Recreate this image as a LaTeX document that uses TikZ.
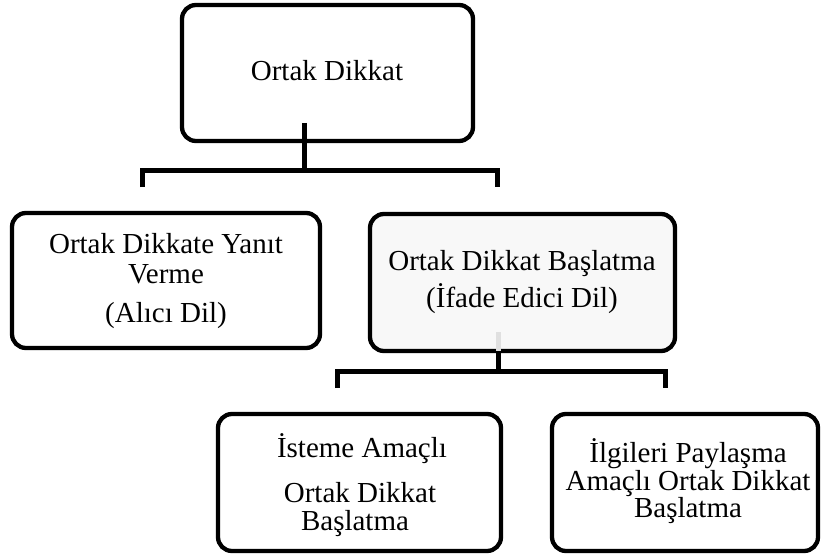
\documentclass[tikz,border=0pt]{standalone}
\usepackage{fontspec}
\setmainfont{Liberation Serif}
\usetikzlibrary{calc}
\definecolor{midfill}{HTML}{F8F8F8}
\definecolor{stubgray}{HTML}{E0E0E0}
\begin{document}
\begin{tikzpicture}[x=1pt,y=-1pt,
  box/.style={draw=black, line width=4.3pt, rounded corners=14pt, fill=white, inner sep=0pt, outer sep=0pt},
  txt/.style={anchor=base, inner sep=0pt, font=\fontsize{29}{30}\selectfont},
  conn/.style={draw=black, line width=5pt, line join=miter},
]
\useasboundingbox (0,0) rectangle (821,559);

% boxes
\node[box, minimum width=291pt, minimum height=136pt] (top) at (327.5,73) {};
\node[box, minimum width=308pt, minimum height=135pt] (left) at (166,280.5) {};
\node[box, fill=midfill, minimum width=305pt, minimum height=137pt] (mid) at (522.5,282.5) {};
\node[box, minimum width=283pt, minimum height=137pt] (bl) at (359.5,482.5) {};
\node[box, minimum width=266pt, minimum height=137pt] (br) at (685,482.5) {};

% texts
\node[txt] (t1) at (327,81) {Ortak Dikkat};
\node[txt] (l1) at (166,253) {Ortak Dikkate Yanıt};
\node[txt] (l2) at (166,283) {Verme};
\node[txt] (l3) at (166,322) {(Alıcı Dil)};
\node[txt] (m1) at (522,270) {Ortak Dikkat Başlatma};
\node[txt] (m2) at (522,307) {(İfade Edici Dil)};
\node[txt] (b1) at (362,457) {İsteme Amaçlı};
\node[txt] (b2) at (360,502) {Ortak Dikkat};
\node[txt] (b3) at (355,530) {Başlatma};
\node[txt] (r1) at (688,462) {İlgileri Paylaşma};
\node[txt] (r2) at (688,490) {Amaçlı Ortak Dikkat};
\node[txt] (r3) at (688,517) {Başlatma};

% top bracket
\coordinate (topstub) at ($(top.south)+(-23.5,-18)$);
\coordinate (topjoin) at ($(top.south)+(-23.5,29)$);
\coordinate (tleg) at (142,187);
\coordinate (rleg) at (497,187);
\draw[conn] (topstub) -- (topjoin);
\draw[conn] (tleg) |- (topjoin) -| (rleg);

% middle bracket
\coordinate (midstub) at ($(mid.south)+(-24.5,-19)$);
\coordinate (midbot) at ($(mid.south)+(-24.5,0)$);
\coordinate (midjoin) at ($(mid.south)+(-24.5,20)$);
\coordinate (blleg) at (337,388);
\coordinate (brleg) at (665,388);
\draw[stubgray, line width=5pt] (midstub) -- (midbot);
\draw[conn] (midbot) -- (midjoin);
\draw[conn] (blleg) |- (midjoin) -| (brleg);
\end{tikzpicture}
\end{document}
